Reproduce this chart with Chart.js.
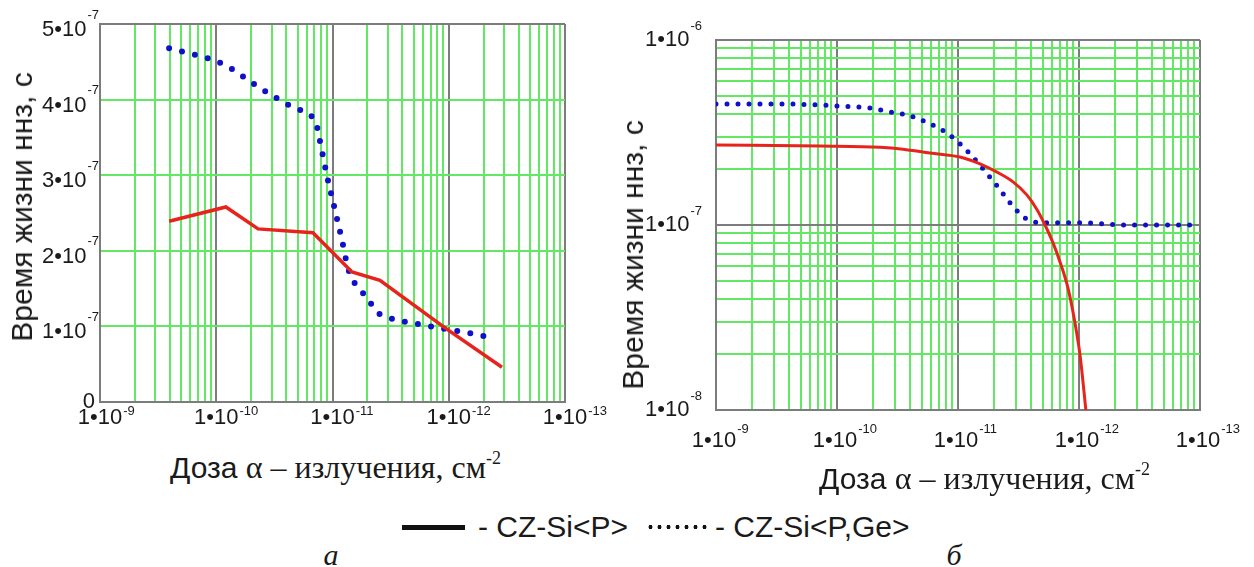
<!DOCTYPE html>
<html>
<head>
<meta charset="utf-8">
<script src="https://cdn.jsdelivr.net/npm/chart.js@4.4.1/dist/chart.umd.min.js"></script>
<style>
  body { margin: 0; background: #fff; width: 1254px; height: 567px; overflow: hidden; position: relative;
         font-family: "Liberation Sans", Arial, sans-serif; color: #1a1a1a; }
  canvas { position: absolute; top: 0; }
  #chartA { left: 0; }
  #chartB { left: 610px; }
  .ytitle { position: absolute; font-size: 30px; white-space: nowrap; line-height: 1;
            transform: translate(-50%, -50%) rotate(-90deg); }
  .xtitle { position: absolute; font-size: 30px; white-space: nowrap; line-height: 1; transform: translateY(-50%); }
  .serif { font-family: "Liberation Serif", "Times New Roman", serif; font-size: 32px; }
  .xtitle sup { font-size: 18px; vertical-align: 0; position: relative; top: -14px; }
  .legend { position: absolute; left: 402px; top: 527px; transform: translateY(-50%); font-size: 30px;
            white-space: nowrap; line-height: 1; display: flex; align-items: center; }
  .solid { display: inline-block; width: 63px; height: 5px; background: #111; margin-right: 13px; }
  .dotted { display: inline-block; width: 64px; height: 4px; margin: 0 5px 0 18px;
            background-image: radial-gradient(circle, #111 1.8px, transparent 2.2px);
            background-size: 9px 4px; background-repeat: repeat-x; }
  .caption { position: absolute; top: 555px; transform: translate(-50%, -50%); font-size: 30px; line-height: 1;
             font-family: "Liberation Serif", "Times New Roman", serif; font-style: italic; }
</style>
</head>
<body>
<canvas id="chartA" width="610" height="440"></canvas>
<canvas id="chartB" width="644" height="460"></canvas>

<div class="ytitle" style="left:22px; top:207px;">Время жизни ннз, с</div>
<div class="ytitle" style="left:633px; top:255px;">Время жизни ннз, с</div>
<div class="xtitle" style="left:170px; top:467px;">Доза <span class="serif">α – излучения, см<sup>-2</sup></span></div>
<div class="xtitle" style="left:819px; top:478px;">Доза <span class="serif">α – излучения, см<sup>-2</sup></span></div>

<div class="legend"><span class="solid"></span>- CZ-Si&lt;P&gt;<span class="dotted"></span>- CZ-Si&lt;P,Ge&gt;</div>
<div class="caption" style="left:331px;">а</div>
<div class="caption" style="left:954px;">б</div>

<script>
// ось X (общая): декады и показатели степени в подписях
const xTicks = [1e9, 1e10, 1e11, 1e12, 1e13];
const xTickSup = ['-9', '-10', '-11', '-12', '-13'];

// (а) линейная ось Y
const yTicksA = [0, 1e-7, 2e-7, 3e-7, 4e-7, 5e-7];
const yTickMainA = ['0', '1•10', '2•10', '3•10', '4•10', '5•10'];
const yTickSupA = ['', '-7', '-7', '-7', '-7', '-7'];

// (а) CZ-Si<P>
const doseA_P = [3.93e9, 1.21e10, 2.29e10, 6.79e10, 1.47e11, 2.56e11, 9.29e11, 2.87e12];
const tauA_P = [2.39e-7, 2.58e-7, 2.29e-7, 2.24e-7, 1.72e-7, 1.61e-7, 0.98e-7, 0.46e-7];
// (а) CZ-Si<P,Ge>
const doseA_PGe = [3.93e9, 1.14e10, 2.29e10, 4.67e10, 7.2e10, 7.66e10, 8.97e10, 1.01e11, 1.21e11, 1.36e11,
                   1.5e11, 1.79e11, 2.1e11, 2.46e11, 3.12e11, 5.44e11, 9.46e11, 1.65e12, 2.18e12];
const tauA_PGe = [4.68e-7, 4.47e-7, 4.17e-7, 3.89e-7, 3.69e-7, 3.51e-7, 2.99e-7, 2.65e-7, 2.13e-7, 1.77e-7,
                  1.61e-7, 1.46e-7, 1.32e-7, 1.18e-7, 1.11e-7, 1.03e-7, 0.966e-7, 0.90e-7, 0.86e-7];

// (б) логарифмическая ось Y
const yTicksB = [1e-8, 1e-7, 1e-6];
const yTickSupB = ['-8', '-7', '-6'];

// (б) CZ-Si<P>
const doseB_P = [1e9, 7.24e9, 2.26e10, 3.51e10, 5.87e10, 1.04e11, 1.52e11, 2.1e11, 2.85e11, 3.72e11,
                 4.5e11, 5.24e11, 6.1e11, 6.97e11, 8.11e11, 9.27e11, 1.02e12, 1.14e12];
const tauB_P = [2.71e-7, 2.67e-7, 2.63e-7, 2.57e-7, 2.45e-7, 2.33e-7, 2.14e-7, 1.93e-7, 1.71e-7, 1.45e-7,
                1.21e-7, 1.0e-7, 0.80e-7, 0.631e-7, 0.456e-7, 0.295e-7, 0.198e-7, 0.10e-7];
// (б) CZ-Si<P,Ge>
const doseB_PGe = [1e9, 3.38e9, 1.02e10, 1.87e10, 2.79e10, 4.09e10, 5.65e10, 7.66e10, 1e11, 1.26e11,
                   1.61e11, 2.1e11, 2.69e11, 3.58e11, 4.77e11, 9.82e11, 2.64e12, 1e13];
const tauB_PGe = [4.51e-7, 4.51e-7, 4.40e-7, 4.29e-7, 4.08e-7, 3.88e-7, 3.56e-7, 3.22e-7, 2.81e-7, 2.42e-7,
                  2.01e-7, 1.63e-7, 1.32e-7, 1.09e-7, 1.03e-7, 1.03e-7, 1.0e-7, 1.0e-7];

const GREEN = '#62e862';
const GRAY = '#7c7c7c';
const RED = '#e8231c';
const BLUE = '#1010c8';
const MAIN_FONT = '22px "Liberation Sans", Arial, sans-serif';
const SUP_FONT = '13px "Liberation Sans", Arial, sans-serif';

function pts(xs, ys) {
  return xs.map((x, i) => ({ x: x, y: ys[i] }));
}

function logGrid(min, max) {
  const out = [];
  for (let e = Math.floor(Math.log10(min)); e <= Math.ceil(Math.log10(max)); e++) {
    for (let k = 1; k <= 9; k++) {
      const v = k * Math.pow(10, e);
      if (v >= min * 0.999 && v <= max * 1.001) out.push(v);
    }
  }
  return out;
}

function isDecade(v) {
  const l = Math.log10(v);
  return Math.abs(l - Math.round(l)) < 1e-6;
}

// подпись вида 1•10 с показателем степени
function drawPow(ctx, x, y, main, sup, align, supDy) {
  ctx.font = MAIN_FONT;
  const mw = ctx.measureText(main).width;
  ctx.font = SUP_FONT;
  const sw = sup ? ctx.measureText(sup).width + 1 : 0;
  let left = align === 'right' ? x - mw - sw : x - mw / 2;
  ctx.textAlign = 'left';
  ctx.font = MAIN_FONT;
  ctx.fillText(main, left, y);
  if (sup) {
    ctx.font = SUP_FONT;
    ctx.fillText(sup, left + mw + 1, y + supDy);
  }
}

const powLabels = {
  id: 'powLabels',
  afterDraw(chart, args, o) {
    const ctx = chart.ctx;
    const xs = chart.scales.x, ys = chart.scales.y;
    ctx.save();
    ctx.fillStyle = '#1a1a1a';
    ctx.textBaseline = 'middle';
    xTicks.forEach((v, i) => {
      drawPow(ctx, xs.getPixelForValue(v) + o.xDx, o.xY, '1•10', xTickSup[i], 'center', o.xSupDy);
    });
    o.yValues.forEach((v, i) => {
      const py = ys.getPixelForValue(v);
      if (!o.ySup[i]) {
        drawPow(ctx, chart.chartArea.left - 5, py, o.yMain[i], '', 'right', 0);
      } else {
        drawPow(ctx, chart.chartArea.left - o.yGap, py + o.yDy, o.yMain[i], o.ySup[i], 'right', o.ySupDy);
      }
    });
    ctx.restore();
  }
};

function xScale() {
  return {
    type: 'logarithmic',
    min: 1e9,
    max: 1e13,
    afterBuildTicks: s => { s.ticks = logGrid(1e9, 1e13).map(v => ({ value: v })); },
    afterFit: s => { s.height = 0; },
    ticks: { display: false },
    grid: {
      color: c => isDecade(c.tick.value) ? GRAY : GREEN,
      lineWidth: 2,
      drawTicks: false
    },
    border: { display: true, color: GRAY, width: 2 }
  };
}

Chart.defaults.devicePixelRatio = 1;

new Chart(document.getElementById('chartA'), {
  type: 'line',
  data: {
    datasets: [
      {
        label: 'CZ-Si<P>',
        data: pts(doseA_P, tauA_P),
        borderColor: RED,
        borderWidth: 3.5,
        pointRadius: 0,
        tension: 0
      },
      {
        label: 'CZ-Si<P,Ge>',
        data: pts(doseA_PGe, tauA_PGe),
        borderColor: BLUE,
        borderWidth: 6,
        borderDash: [0, 13.3],
        borderCapStyle: 'round',
        pointRadius: 0,
        cubicInterpolationMode: 'monotone'
      }
    ]
  },
  options: {
    responsive: false,
    animation: false,
    layout: { autoPadding: false, padding: { left: 100, top: 24, right: 45, bottom: 38 } },
    plugins: {
      legend: { display: false },
      tooltip: { enabled: false },
      powLabels: {
        xDx: 0, xY: 418, xSupDy: -7,
        yValues: yTicksA, yMain: yTickMainA, ySup: yTickSupA,
        yGap: 1, yDy: 6, ySupDy: -15
      }
    },
    scales: {
      x: xScale(),
      y: {
        type: 'linear',
        min: 0,
        max: 5e-7,
        afterBuildTicks: s => { s.ticks = yTicksA.map(v => ({ value: v })); },
        afterFit: s => { s.width = 0; },
        ticks: { display: false },
        grid: {
          color: c => (c.tick.value <= 0 || c.tick.value >= 5e-7) ? GRAY : GREEN,
          lineWidth: 2,
          drawTicks: false
        },
        border: { display: true, color: GRAY, width: 2 }
      }
    }
  },
  plugins: [powLabels]
});

new Chart(document.getElementById('chartB'), {
  type: 'line',
  data: {
    datasets: [
      {
        label: 'CZ-Si<P>',
        data: pts(doseB_P, tauB_P),
        borderColor: RED,
        borderWidth: 3,
        pointRadius: 0,
        cubicInterpolationMode: 'monotone'
      },
      {
        label: 'CZ-Si<P,Ge>',
        data: pts(doseB_PGe, tauB_PGe),
        borderColor: BLUE,
        borderWidth: 5,
        borderDash: [0, 11],
        borderCapStyle: 'round',
        pointRadius: 0,
        cubicInterpolationMode: 'monotone'
      }
    ]
  },
  options: {
    responsive: false,
    animation: false,
    layout: { autoPadding: false, padding: { left: 106, top: 40, right: 54, bottom: 50 } },
    plugins: {
      legend: { display: false },
      tooltip: { enabled: false },
      powLabels: {
        xDx: -2, xY: 441, xSupDy: -12,
        yValues: yTicksB, yMain: ['1•10', '1•10', '1•10'], ySup: yTickSupB,
        yGap: 14, yDy: 0, ySupDy: -14
      }
    },
    scales: {
      x: xScale(),
      y: {
        type: 'logarithmic',
        min: 1e-8,
        max: 1e-6,
        afterBuildTicks: s => { s.ticks = logGrid(1e-8, 1e-6).map(v => ({ value: v })); },
        afterFit: s => { s.width = 0; },
        ticks: { display: false },
        grid: {
          color: c => isDecade(c.tick.value) ? GRAY : GREEN,
          lineWidth: 2,
          drawTicks: false
        },
        border: { display: true, color: GRAY, width: 2 }
      }
    }
  },
  plugins: [powLabels]
});
</script>
</body>
</html>
